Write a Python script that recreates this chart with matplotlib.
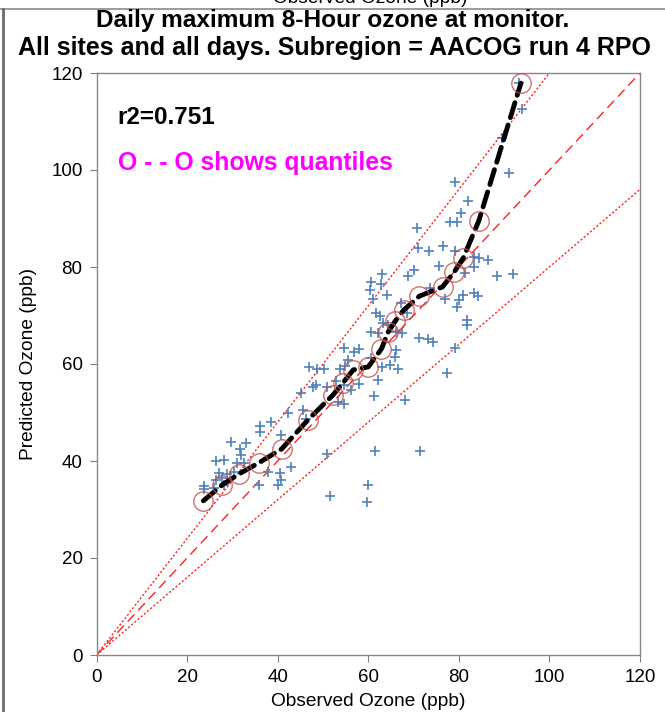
import matplotlib
matplotlib.use("Agg")
import matplotlib.pyplot as plt
from matplotlib.lines import Line2D
import numpy as np

plt.rcParams['font.family'] = ['Liberation Sans', 'DejaVu Sans']

# Observed / predicted daily max 8-hour ozone (ppb), all sites & days
obs = [42.2, 38.5, 36.1, 36.1, 40.8, 29.6, 33.1, 31.7, 32.0, 26.3, 28.1, 31.1, 32.5, 42.9,
       37.9, 40.5, 27.0, 28.9, 30.3, 26.3, 27.8, 40.8, 23.7, 23.7, 25.9, 28.1, 35.9, 40.0,
       45.1, 48.5, 47.7, 51.0, 52.9, 54.7, 58.0, 56.1, 61.2, 68.2, 53.3, 54.6, 45.5, 46.2,
       50.9, 61.6, 71.5, 60.0, 51.6, 59.8,
       63.0, 60.6, 62.9, 60.3, 64.2, 61.0, 61.8, 62.7, 63.2, 64.3, 60.5, 62.1, 66.2, 54.7,
       56.9, 58.0, 55.5, 60.6, 66.2, 65.8, 47.0, 48.7, 50.2, 53.8, 54.9, 63.0, 64.9, 66.6,
       62.1,
       68.8, 70.2, 81.3, 88.4, 91.9, 73.6, 76.9, 81.0, 80.1, 83.3, 84.3, 79.5, 67.3, 68.6,
       81.9, 81.9, 67.5, 71.2, 73.2, 74.2, 79.1, 77.3,
       91.0, 79.1, 82.1, 80.4, 78.0, 79.6, 70.8, 71.0, 73.4, 76.5, 79.1, 84.5, 86.5, 83.3,
       75.7, 83.3,
       93.3, 93.9, 89.5]
pred = [49.8, 48.1, 47.2, 46.0, 45.4, 44.0, 43.8, 42.4, 41.2, 39.9, 40.2, 39.5, 39.6, 38.7,
        37.8, 37.6, 37.6, 37.3, 37.8, 36.1, 36.4, 36.1, 34.8, 34.2, 34.4, 35.1, 35.1, 35.1,
        54.0, 55.7, 55.3, 55.3, 56.4, 55.7, 55.9, 54.6, 53.4, 52.6, 52.2, 51.8, 50.5, 48.6,
        41.4, 42.1, 42.1, 35.1, 32.8, 31.6,
        78.6, 77.0, 76.5, 75.3, 74.2, 73.5, 70.5, 69.8, 68.5, 68.0, 66.5, 66.3, 66.7, 63.2,
        62.5, 63.0, 60.8, 61.2, 62.9, 61.4, 59.3, 58.9, 58.9, 58.9, 59.6, 59.4, 59.8, 58.9,
        56.7,
        78.1, 79.4, 78.7, 78.1, 78.6, 75.6, 73.5, 74.2, 73.2, 74.6, 74.0, 71.8, 72.5, 70.5,
        69.1, 68.0, 66.3, 65.3, 65.1, 64.6, 63.4, 58.1,
        99.4, 97.6, 93.7, 91.2, 89.3, 89.3, 88.0, 83.9, 83.2, 84.3, 83.2, 81.8, 81.4, 82.1,
        80.2, 80.1,
        117.9, 112.5, 106.5]

# Quantiles (observed vs predicted)
q_obs = [23.6, 27.8, 31.4, 35.8, 40.9, 46.7, 52.2, 54.4, 56.7, 60.0, 62.9, 64.4, 66.0,
         67.8, 71.3, 76.4, 79.0, 81.0, 84.4, 93.7]
q_pred = [31.8, 35.1, 37.3, 39.6, 42.5, 48.5, 53.6, 56.1, 58.8, 59.4, 63.1, 66.6, 68.9,
          71.1, 74.0, 75.9, 79.0, 81.9, 89.5, 117.9]

ref_slopes = [1.0, 1.2, 0.8]
ticks = [0, 20, 40, 60, 80, 100, 120]
r2_text = "r2=0.751"

fig = plt.figure(figsize=(6.65, 7.12), dpi=100)
ax = fig.add_axes([96.5/665, 57/712, (640-96.5)/665, (655-73)/712])

xx = np.array([0, 120])
ax.plot(xx, ref_slopes[0]*xx, color='#ff2020', lw=1.0, dashes=(7, 4))
ax.plot(xx, ref_slopes[1]*xx, color='#ff2020', lw=1.0, dashes=(1.5, 1.5))
ax.plot(xx, ref_slopes[2]*xx, color='#ff2020', lw=1.0, dashes=(1.5, 1.5))

ax.scatter(obs, pred, marker='+', s=55, color='#4f81bd', linewidths=1.2, zorder=3)

ax.plot(q_obs, q_pred, color='black', lw=3.5, dashes=(3.2, 1.6), zorder=4,
        dash_capstyle='round')
ax.plot(q_obs, q_pred, linestyle='none', marker='o', ms=14, mfc='none',
        mec='#c0504d', mew=1.0, alpha=0.8, zorder=5)

ax.set_xlim(0, 120)
ax.set_ylim(0, 120)
ax.set_xticks(ticks)
ax.set_yticks(ticks)
ax.tick_params(direction='out', length=5, color='#808080', labelsize=13.5, pad=5)
for s in ax.spines.values():
    s.set_color('#868686')
    s.set_linewidth(1.0)

ax.set_xlabel('Observed Ozone (ppb)', fontsize=13.8, labelpad=5)
ax.set_ylabel('Predicted Ozone (ppb)', fontsize=13.8, labelpad=10)

fig.text(117/665, 1-117/712, r2_text, fontsize=17.5, fontweight='bold', va='center', ha='left')
fig.text(118/665, 1-163/712, 'O - - O shows quantiles', fontsize=17.8, fontweight='bold',
         color='#ff00ff', va='center', ha='left')

fig.text(332.5/665, 1-20/712, 'Daily maximum 8-Hour ozone at monitor.', fontsize=17.6,
         fontweight='bold', ha='center', va='center')
fig.text(334.5/665, 1-48/712, 'All sites and all days. Subregion = AACOG run 4 RPO',
         fontsize=18.0, fontweight='bold', ha='center', va='center')

# cropped-frame remnants
fig.text(370/665, 1-3/712, 'Observed Ozone (ppb)', fontsize=13.8, ha='center', va='baseline')
fig.add_artist(Line2D([0, 1], [1-9/712, 1-9/712], transform=fig.transFigure,
                      color='#8a8a8a', lw=1.2))
fig.add_artist(Line2D([2.5/665, 2.5/665], [0, 1-9/712], transform=fig.transFigure,
                      color='#6a6a6a', lw=2))

fig.savefig('out.png', dpi=100)
